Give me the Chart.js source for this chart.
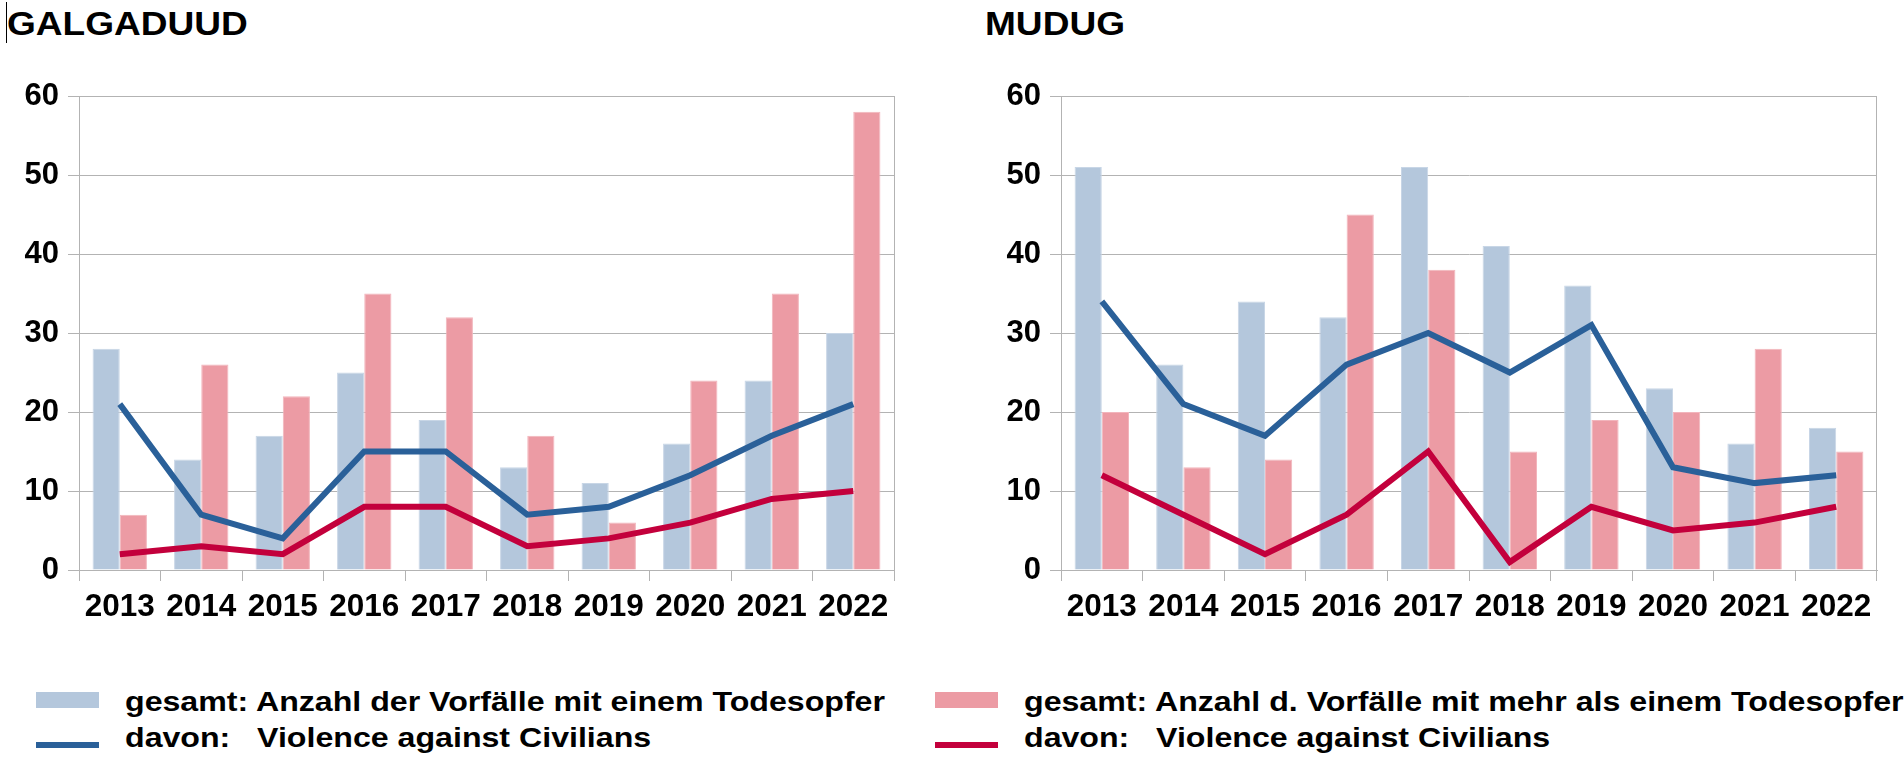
<!DOCTYPE html>
<html>
<head>
<meta charset="utf-8">
<script src="https://cdn.jsdelivr.net/npm/chart.js@4.4.1/dist/chart.umd.min.js"></script>
<style>
html,body{margin:0;padding:0;background:#fff;width:1904px;height:764px;overflow:hidden;font-family:"Liberation Sans",Arial,sans-serif;}
.title{position:absolute;top:6px;font-weight:bold;font-size:34px;line-height:34px;transform-origin:0 0;transform:scaleX(1.09);color:#000;white-space:nowrap;}
.cursor{position:absolute;left:6px;top:2px;width:1px;height:41px;background:#000;}
canvas{position:absolute;top:0;}
.sw{position:absolute;}
.lt{position:absolute;font-weight:bold;font-size:27px;line-height:27px;transform-origin:0 0;transform:scaleX(1.19);color:#000;white-space:pre;}
</style>
</head>
<body>
<div class="cursor"></div>
<div class="title" id="t1" style="left:7px;"></div>
<div class="title" id="t2" style="left:985px;"></div>
<canvas id="c1" width="950" height="640" style="left:0px;"></canvas>
<canvas id="c2" width="954" height="640" style="left:950px;"></canvas>
<div id="legend"></div>
<script>
// ---- data ----
const years = ['2013','2014','2015','2016','2017','2018','2019','2020','2021','2022'];
const regionNames = ['GALGADUUD', 'MUDUG'];

const galSingle    = [28, 14, 17, 25, 19, 13, 11, 16, 24, 30];
const galMulti     = [7, 26, 22, 35, 32, 17, 6, 24, 35, 58];
const galSingleVAC = [21, 7, 4, 15, 15, 7, 8, 12, 17, 21];
const galMultiVAC  = [2, 3, 2, 8, 8, 3, 4, 6, 9, 10];

const mudSingle    = [51, 26, 34, 32, 51, 41, 36, 23, 16, 18];
const mudMulti     = [20, 13, 14, 45, 38, 15, 19, 20, 28, 15];
const mudSingleVAC = [34, 21, 17, 26, 30, 25, 31, 13, 11, 12];
const mudMultiVAC  = [12, 7, 2, 7, 15, 1, 8, 5, 6, 8];

const yMin = 0, yMax = 60, yStep = 10;

const labelSingle = 'gesamt: Anzahl der Vorfälle mit einem Todesopfer';
const labelMulti  = 'gesamt: Anzahl d. Vorfälle mit mehr als einem Todesopfer';
const labelVAC    = 'davon:   Violence against Civilians';

// ---- styles ----
const colSingle = '#b4c7dc', colSingleEdge = '#c8d6e6';
const colMulti = '#ec9ba4', colMultiEdge = '#f2b5bc';
const colLineBlue = '#2a6099', colLineRed = '#c3003c';
const gridGray = '#b3b3b3';

document.getElementById('t1').textContent = regionNames[0];
document.getElementById('t2').textContent = regionNames[1];

Chart.defaults.font.family = "'Liberation Sans', Arial, sans-serif";
Chart.defaults.font.weight = 'bold';
Chart.defaults.color = '#000';

function makeChart(id, single, multi, singleVAC, multiVAC, yWidth, padRight) {
  return new Chart(document.getElementById(id), {
    type: 'bar',
    data: {
      labels: years,
      datasets: [
        { type: 'line', label: labelVAC, data: multiVAC, borderColor: colLineRed, backgroundColor: colLineRed,
          borderWidth: 6, pointRadius: 0, tension: 0, order: 0 },
        { type: 'line', label: labelVAC, data: singleVAC, borderColor: colLineBlue, backgroundColor: colLineBlue,
          borderWidth: 6, pointRadius: 0, tension: 0, order: 1 },
        { label: labelSingle, data: single, backgroundColor: colSingle, borderColor: colSingleEdge, borderWidth: 1, order: 2 },
        { label: labelMulti, data: multi, backgroundColor: colMulti, borderColor: colMultiEdge, borderWidth: 1, order: 3 }
      ]
    },
    options: {
      responsive: false,
      animation: false,
      datasets: { bar: { categoryPercentage: 0.667, barPercentage: 1.0 } },
      layout: { padding: { top: 96, left: 0, right: padRight, bottom: 10 } },
      plugins: { legend: { display: false }, tooltip: { enabled: false }, title: { display: false } },
      scales: {
        x: {
          offset: true,
          grid: {
            offset: true,
            drawOnChartArea: true,
            color: (c) => (c.type === 'scale' || c.index === 0) ? gridGray : 'rgba(0,0,0,0)',
            tickColor: gridGray,
            tickLength: 11,
            lineWidth: 1
          },
          border: { color: gridGray, width: 1 },
          ticks: { font: { size: 31.5, weight: 'bold' }, color: '#000', padding: 7, maxRotation: 0, autoSkip: false },
          afterFit: (s) => { s.height = 60; }
        },
        y: {
          min: yMin, max: yMax,
          grid: { color: gridGray, tickColor: gridGray, tickLength: 11, lineWidth: 1 },
          border: { color: gridGray, width: 1 },
          ticks: { stepSize: yStep, font: { size: 31, weight: 'bold' }, color: '#000', padding: 9 },
          afterFit: (s) => { s.width = yWidth; }
        }
      }
    }
  });
}

makeChart('c1', galSingle, galMulti, galSingleVAC, galMultiVAC, 79, 56);
makeChart('c2', mudSingle, mudMulti, mudSingleVAC, mudMultiVAC, 111, 27);

// ---- legend (HTML) ----
const legendItems = [
  { kind: 'box',  color: colSingle,   text: labelSingle, x: 36,  row: 0 },
  { kind: 'line', color: colLineBlue, text: labelVAC,    x: 36,  row: 1 },
  { kind: 'box',  color: colMulti,    text: labelMulti,  x: 935, row: 0 },
  { kind: 'line', color: colLineRed,  text: labelVAC,    x: 935, row: 1 }
];
const leg = document.getElementById('legend');
legendItems.forEach((it) => {
  const sw = document.createElement('div');
  sw.className = 'sw';
  sw.style.left = it.x + 'px';
  sw.style.width = '63px';
  sw.style.background = it.color;
  if (it.kind === 'box') { sw.style.top = '692px'; sw.style.height = '16px'; }
  else { sw.style.top = '742px'; sw.style.height = '6px'; }
  leg.appendChild(sw);
  const t = document.createElement('div');
  t.className = 'lt';
  t.style.left = (it.x + 89) + 'px';
  t.style.top = (it.row === 0 ? 689 : 725) + 'px';
  t.textContent = it.text;
  leg.appendChild(t);
});
</script>
</body>
</html>
